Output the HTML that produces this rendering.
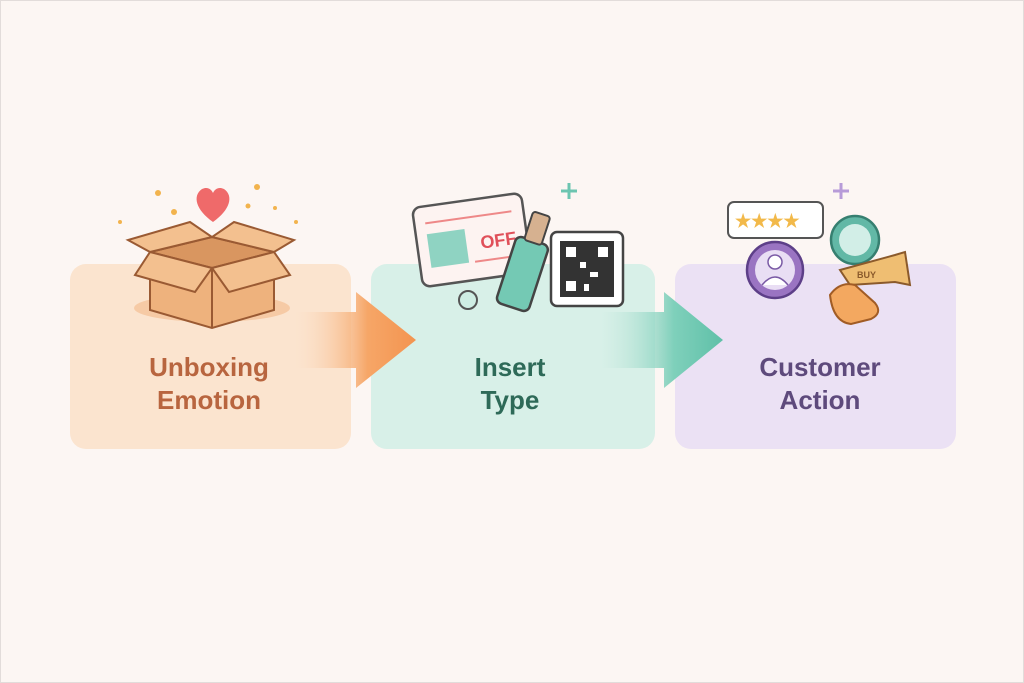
<!DOCTYPE html>
<html><head><meta charset="utf-8"><style>
html,body{margin:0;padding:0;background:#fcf6f3}
svg{display:block}
text{font-family:"Liberation Sans",sans-serif;font-weight:bold}
</style></head><body>
<svg width="1024" height="683" viewBox="0 0 1024 683" xmlns="http://www.w3.org/2000/svg">
<defs>
<linearGradient id="ga" x1="0" x2="1"><stop offset="0" stop-color="#fbd9bd" stop-opacity="0"/><stop offset="0.6" stop-color="#f6a667"/><stop offset="1" stop-color="#f39450"/></linearGradient>
<linearGradient id="gb" x1="0" x2="1"><stop offset="0" stop-color="#bfe6da" stop-opacity="0"/><stop offset="0.6" stop-color="#7fd0bb"/><stop offset="1" stop-color="#5fc0a8"/></linearGradient>
</defs>
<rect x="0.5" y="0.5" width="1023" height="682" fill="#fcf6f3" stroke="#e2dcda"/>
<rect x="70" y="264" width="281" height="185" rx="16" fill="#fbe4cf"/>
<rect x="371" y="264" width="284" height="185" rx="16" fill="#d8f0e8"/>
<rect x="675" y="264" width="281" height="185" rx="16" fill="#ebe1f4"/>
<!-- arrows -->
<path d="M295 312 H356 V292 L416 340 L356 388 V368 H295 Z" fill="url(#ga)"/>
<path d="M600 312 H664 V292 L723 340 L664 388 V368 H600 Z" fill="url(#gb)"/>
<!-- box icon -->
<ellipse cx="212" cy="308" rx="78" ry="14" fill="#f6caa5"/>
<path d="M150 252 L212 268 L274 252 L274 310 L212 328 L150 310 Z" fill="#eeb27d" stroke="#9a5a33" stroke-width="2"/>
<path d="M212 268 V328" stroke="#9a5a33" stroke-width="2"/>
<path d="M150 252 L212 237 L274 252 L212 268 Z" fill="#d99660" stroke="#9a5a33" stroke-width="2"/>
<path d="M150 252 L128 240 L190 222 L212 237 Z" fill="#f3c08f" stroke="#9a5a33" stroke-width="2"/>
<path d="M274 252 L294 240 L234 222 L212 237 Z" fill="#f3c08f" stroke="#9a5a33" stroke-width="2"/>
<path d="M150 252 L135 275 L195 292 L212 268 Z" fill="#f3c08f" stroke="#9a5a33" stroke-width="2"/>
<path d="M274 252 L290 275 L229 292 L212 268 Z" fill="#f3c08f" stroke="#9a5a33" stroke-width="2"/>
<path d="M213 222 C196 210 192 196 202 189 C208 186 212 190 213 193 C214 190 218 186 224 189 C234 196 230 210 213 222 Z" fill="#ef6a6a"/>
<g fill="#f2b34d"><circle cx="158" cy="193" r="3"/><circle cx="257" cy="187" r="3"/><circle cx="174" cy="212" r="3"/><circle cx="248" cy="206" r="2.5"/><circle cx="120" cy="222" r="2"/><circle cx="296" cy="222" r="2"/><circle cx="275" cy="208" r="2"/></g>
<!-- insert icon -->
<g transform="rotate(-8 472 240)"><rect x="417" y="200" width="110" height="80" rx="8" fill="#fdf3f1" stroke="#555" stroke-width="2.5"/>
<rect x="428" y="228" width="38" height="34" fill="#8fd3c2"/><text x="480" y="250" font-size="18" fill="#e0505a">OFF</text>
<line x1="428" y1="217" x2="515" y2="217" stroke="#e88" stroke-width="2"/><line x1="472" y1="262" x2="515" y2="262" stroke="#e88" stroke-width="2"/></g>
<circle cx="468" cy="300" r="9" fill="#cfeee4" stroke="#555" stroke-width="2"/>
<g transform="rotate(18 528 260)"><rect x="510" y="240" width="34" height="70" rx="6" fill="#74c9b4" stroke="#444" stroke-width="2.5"/><rect x="518" y="212" width="18" height="30" rx="3" fill="#d6b190" stroke="#444" stroke-width="2"/></g>
<rect x="551" y="232" width="72" height="74" rx="6" fill="#fff" stroke="#444" stroke-width="2.5"/>
<rect x="560" y="241" width="54" height="56" fill="#333"/>
<rect x="566" y="247" width="10" height="10" fill="#fff"/><rect x="598" y="247" width="10" height="10" fill="#fff"/><rect x="566" y="281" width="10" height="10" fill="#fff"/>
<rect x="580" y="262" width="6" height="6" fill="#fff"/><rect x="590" y="272" width="8" height="5" fill="#fff"/><rect x="584" y="284" width="5" height="7" fill="#fff"/>
<path d="M569 183 v16 M561 191 h16" stroke="#6cc5b0" stroke-width="3"/>
<!-- action icon -->
<path d="M841 183 v16 M833 191 h16" stroke="#b79bd8" stroke-width="3"/>
<rect x="728" y="202" width="95" height="36" rx="6" fill="#fff" stroke="#555" stroke-width="2"/>
<text x="735" y="227" font-size="18" fill="#f2b94a">★★★★</text>
<circle cx="775" cy="270" r="28" fill="#9a74c2" stroke="#5d3f88" stroke-width="2.5"/>
<circle cx="775" cy="270" r="20" fill="#e9def4"/><circle cx="775" cy="262" r="7" fill="#fff" stroke="#7a5aa5" stroke-width="1.5"/><path d="M762 285 q13 -16 26 0" fill="#fff" stroke="#7a5aa5" stroke-width="1.5"/>
<circle cx="855" cy="240" r="24" fill="#62b8a6" stroke="#367f70" stroke-width="2.5"/><circle cx="855" cy="240" r="16" fill="#d2eee7"/>
<path d="M840 270 L895 255 L905 252 L910 285 L895 282 L850 285 Z" fill="#efbe72" stroke="#8b5a2b" stroke-width="2"/>
<text x="857" y="278" font-size="9" fill="#8b5a2b">BUY</text>
<path d="M830 295 q10 -14 25 -10 l20 18 q8 10 -4 16 l-20 5 q-18 -2 -21 -29 z" fill="#f3a860" stroke="#a15c25" stroke-width="2"/>
<!-- labels -->
<g text-anchor="middle" font-size="26">
<text x="209" y="376" fill="#b8653f">Unboxing</text><text x="209" y="409" fill="#b8653f">Emotion</text>
<text x="510" y="376" fill="#2e6a58">Insert</text><text x="510" y="409" fill="#2e6a58">Type</text>
<text x="820" y="376" fill="#5e4a7c">Customer</text><text x="820" y="409" fill="#5e4a7c">Action</text>
</g>
</svg>
</body></html>
